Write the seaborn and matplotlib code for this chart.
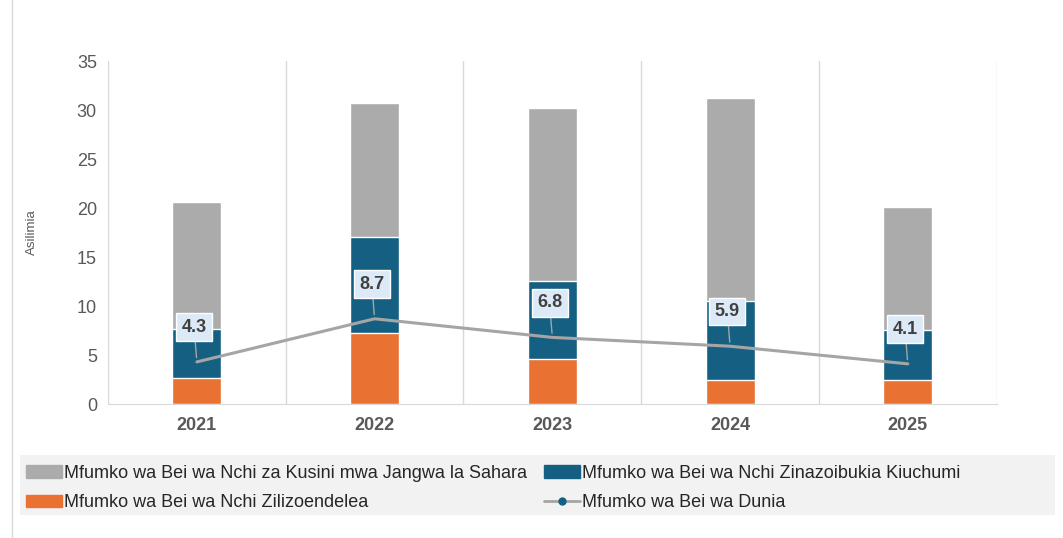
import numpy as np
import pandas as pd
import matplotlib
matplotlib.use("Agg")
import matplotlib.pyplot as plt
import seaborn as sns
from matplotlib.patches import Patch, Rectangle
from matplotlib.lines import Line2D

# values (percent)
years = ["2021", "2022", "2023", "2024", "2025"]
advanced = [2.7, 7.2, 4.6, 2.5, 2.45]        # Nchi Zilizoendelea
emerging = [5.0, 9.8, 8.0, 8.0, 5.15]        # Nchi Zinazoibukia Kiuchumi
ssa = [12.9, 13.7, 17.6, 20.7, 12.5]         # Kusini mwa Jangwa la Sahara
world = [4.3, 8.7, 6.8, 5.9, 4.1]            # Dunia

lbl_ssa = "Mfumko wa Bei wa Nchi za Kusini mwa Jangwa la Sahara"
lbl_emg = "Mfumko wa Bei wa Nchi Zinazoibukia Kiuchumi"
lbl_adv = "Mfumko wa Bei wa Nchi Zilizoendelea"
lbl_world = "Mfumko wa Bei wa Dunia"

c_gray = "#ababab"
c_blue = "#156082"
c_orange = "#e97132"
c_line = "#a5a5a5"
c_text = "#595959"

sns.set_style("white")
plt.rcParams["font.family"] = ["Liberation Sans", "DejaVu Sans"]

df = pd.DataFrame({"year": years, "adv": advanced, "emg": emerging, "ssa": ssa, "world": world})
df["top_emg"] = df["adv"] + df["emg"]
df["top_ssa"] = df["top_emg"] + df["ssa"]
df["pos"] = np.arange(len(df))

fig = plt.figure(figsize=(10.63, 5.38), dpi=100)
ax = fig.add_axes([0.1016, 0.249, 0.836, 0.6375])

# stacked bars drawn back to front
sns.barplot(data=df, x="year", y="top_ssa", color=c_gray, width=0.275, saturation=1, ax=ax)
sns.barplot(data=df, x="year", y="top_emg", color=c_blue, width=0.275, saturation=1, ax=ax)
sns.barplot(data=df, x="year", y="adv", color=c_orange, width=0.275, saturation=1, ax=ax)

sns.lineplot(data=df, x="pos", y="world", color=c_line, linewidth=2.2, ax=ax, legend=False)

for i, v in enumerate(world):
    ax.annotate(f"{v}", xy=(i, v), xytext=(-2, 25), textcoords="offset points",
                ha="center", va="center", fontsize=13, fontweight="bold", color="#404040",
                bbox=dict(boxstyle="square,pad=0.3", fc="#dce9f6", ec="white", lw=1),
                arrowprops=dict(arrowstyle="-", color=c_line, lw=1, shrinkA=0, shrinkB=3))

ax.set_xlim(-0.5, len(years) - 0.5)
ax.set_ylim(0, 35)
ax.set_yticks(range(0, 36, 5))
for b in np.arange(-0.5, len(years), 1.0):
    ax.axvline(b, color="#d9d9d9", lw=1, zorder=0)
for s in ["top", "right", "left"]:
    ax.spines[s].set_visible(False)
ax.spines["bottom"].set_color("#d9d9d9")
ax.tick_params(axis="both", length=0, colors=c_text, labelsize=13)
ax.tick_params(axis="y", pad=8)
ax.tick_params(axis="x", pad=9)
for t in ax.get_xticklabels():
    t.set_fontweight("bold")
ax.set_xlabel("")
ax.set_ylabel("Asilimia", fontsize=9.5, color=c_text)
ax.yaxis.set_label_coords(-0.079, 0.5)

# outer frame line and legend background
fig.add_artist(Line2D([0.011, 0.011], [0, 1], color="#d9d9d9", lw=1))
fig.add_artist(Rectangle((0.0188, 0.043), 0.974, 0.111, transform=fig.transFigure,
                         facecolor="#f2f2f2", edgecolor="none", zorder=0))

handles = [
    Patch(color=c_gray, label=lbl_ssa),
    Patch(color=c_orange, label=lbl_adv),
    Patch(color=c_blue, label=lbl_emg),
    Line2D([0], [0], color=c_line, lw=2, marker="o", markersize=5,
           markerfacecolor=c_blue, markeredgecolor=c_blue, label=lbl_world),
]
fig.legend(handles=handles, ncol=2, loc="upper left", bbox_to_anchor=(0.0155, 0.153),
           frameon=False, fontsize=13, handlelength=2.0, handleheight=0.7, borderpad=0,
           handletextpad=0.15, columnspacing=0.9, labelspacing=0.7, labelcolor="#262626")

fig.savefig("out.png", dpi=100)
